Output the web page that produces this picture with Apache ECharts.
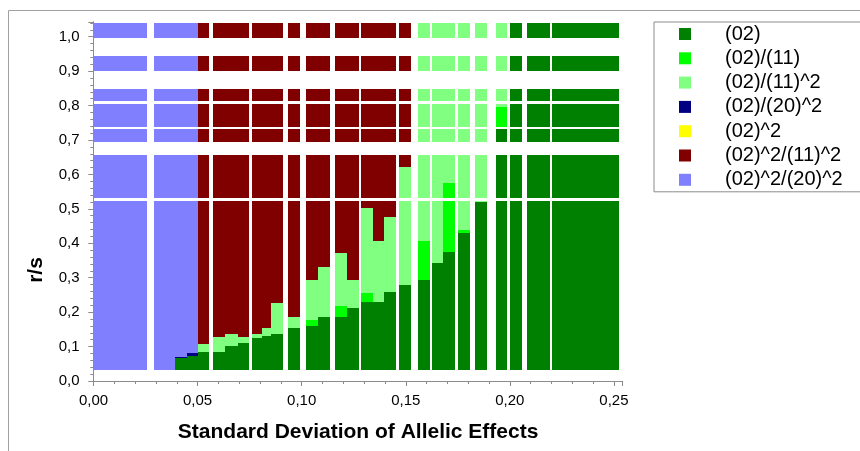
<!DOCTYPE html>
<html>
<head>
<meta charset="utf-8">
<script src="https://cdn.jsdelivr.net/npm/echarts@6/dist/echarts.min.js"></script>
<style>
  html, body { margin: 0; padding: 0; background: #fff; }
  #chart { width: 860px; height: 451px; }
</style>
</head>
<body>
<div id="chart"></div>
<script>
// model categories and their colours
var categories = ['(02)', '(02)/(11)', '(02)/(11)^2', '(02)/(20)^2', '(02)^2', '(02)^2/(11)^2', '(02)^2/(20)^2'];
var catColors = ['#008000', '#00ff00', '#80ff80', '#000080', '#ffff00', '#800000', '#8080ff'];

// x bins (standard deviation of allelic effects)
var binStart = [0.0000, 0.0291, 0.0391, 0.0448, 0.0500, 0.0576, 0.0633, 0.0693, 0.0760, 0.0808, 0.0853, 0.0933, 0.1021, 0.1080, 0.1160, 0.1219, 0.1283, 0.1344, 0.1395, 0.1467, 0.1560, 0.1626, 0.1680, 0.1751, 0.1832, 0.1931, 0.2003, 0.2082, 0.2202];
var binEnd   = [0.0258, 0.0391, 0.0448, 0.0500, 0.0557, 0.0633, 0.0693, 0.0748, 0.0808, 0.0853, 0.0910, 0.0992, 0.1080, 0.1136, 0.1219, 0.1277, 0.1341, 0.1395, 0.1453, 0.1525, 0.1618, 0.1680, 0.1736, 0.1808, 0.1889, 0.1988, 0.2057, 0.2193, 0.2523];

// r/s bands (band 0 is the big lower one)
var rowBottom = [0.032, 0.531, 0.695, 0.737, 0.814, 0.901, 0.995];
var rowTop    = [0.524, 0.656, 0.731, 0.804, 0.848, 0.945, 1.039];

// lower band: top of each stacked layer per bin (null = layer absent)
var low02     = [null, null, 0.066, 0.072, 0.083, 0.083, 0.102, 0.111, 0.124, 0.132, 0.137, 0.155, 0.160, 0.185, 0.185, 0.211, 0.229, 0.229, 0.258, 0.280, 0.293, 0.344, 0.374, 0.429, 0.519, null, null, null, null];
var low02_11  = [null, null, null, null, null, null, null, null, null, null, null, null, 0.176, null, 0.219, null, 0.257, null, null, null, 0.407, null, null, 0.439, null, null, null, null, null];
var low02_11b = [null, null, null, null, 0.108, 0.129, 0.137, 0.127, 0.137, 0.153, 0.226, 0.185, 0.293, 0.330, 0.373, 0.293, 0.503, 0.407, 0.477, null, null, null, null, null, null, null, null, null, null];
var low02_20b = [null, null, 0.071, 0.080, null, null, null, null, null, null, null, null, null, null, null, null, null, null, null, null, null, null, null, null, null, null, null, null, null];
// category filling the rest of the lower band
var lowFill   = [6, 6, 6, 6, 5, 5, 5, 5, 5, 5, 5, 5, 5, 5, 5, 5, 5, 5, 5, 2, 2, 2, 1, 2, 2, 0, 0, 0, 0];

// upper bands: category per bin
var upperRow1 = [6, 6, 6, 6, 5, 5, 5, 5, 5, 5, 5, 5, 5, 5, 5, 5, 5, 5, 5, 5, 2, 2, 2, 2, 2, 0, 0, 0, 0];
var upperRow2 = [6, 6, 6, 6, 5, 5, 5, 5, 5, 5, 5, 5, 5, 5, 5, 5, 5, 5, 5, 5, 2, 2, 2, 2, 2, 0, 0, 0, 0];
var upperRow3 = [6, 6, 6, 6, 5, 5, 5, 5, 5, 5, 5, 5, 5, 5, 5, 5, 5, 5, 5, 5, 2, 2, 2, 2, 2, 2, 0, 0, 0];
var upperRow4 = [6, 6, 6, 6, 5, 5, 5, 5, 5, 5, 5, 5, 5, 5, 5, 5, 5, 5, 5, 5, 2, 2, 2, 2, 2, 2, 0, 0, 0];
var upperRow5 = [6, 6, 6, 6, 5, 5, 5, 5, 5, 5, 5, 5, 5, 5, 5, 5, 5, 5, 5, 5, 2, 2, 2, 2, 2, 2, 0, 0, 0];
var upperRow6 = [6, 6, 6, 6, 5, 5, 5, 5, 5, 5, 5, 5, 5, 5, 5, 5, 5, 5, 5, 5, 2, 2, 2, 2, 2, 2, 0, 0, 0];

// partial layers at the bottom of a few upper cells
var insetBin = [19, 22, 25];
var insetRow = [1, 1, 3];
var insetCat = [2, 1, 1];
var insetTop = [0.622, 0.576, 0.797];

var cellsByCat = categories.map(function () { return []; });
function addCell(cat, bin, y0, y1) {
    cellsByCat[cat].push([binStart[bin], binEnd[bin], y0, y1]);
}

// lower band stacks
var lowLayers = [[0, low02], [1, low02_11], [2, low02_11b], [3, low02_20b]];
for (var i = 0; i < binStart.length; i++) {
    var base = rowBottom[0];
    lowLayers.forEach(function (layer) {
        var top = layer[1][i];
        if (top != null) {
            addCell(layer[0], i, base, top);
            base = top;
        }
    });
    addCell(lowFill[i], i, base, rowTop[0]);
}

// upper bands
var upperRows = [null, upperRow1, upperRow2, upperRow3, upperRow4, upperRow5, upperRow6];
for (var r = 1; r < upperRows.length; r++) {
    for (var b = 0; b < binStart.length; b++) {
        var start = rowBottom[r];
        for (var k = 0; k < insetBin.length; k++) {
            if (insetBin[k] === b && insetRow[k] === r) {
                addCell(insetCat[k], b, start, insetTop[k]);
                start = insetTop[k];
            }
        }
        addCell(upperRows[r][b], b, start, rowTop[r]);
    }
}

// snap to whole pixels so touching cells have no seam
function renderCell(params, api) {
    var p0 = api.coord([api.value(0), api.value(3)]).map(Math.round);
    var p1 = api.coord([api.value(1), api.value(2)]).map(Math.round);
    return {
        type: 'rect',
        shape: { x: p0[0], y: p0[1], width: p1[0] - p0[0], height: p1[1] - p0[1] },
        style: { fill: api.visual('color') }
    };
}

var fontFam = 'Liberation Sans, Arial, sans-serif';
var axisGray = '#8c8c8c';
function comma(d) {
    return function (v) { return v.toFixed(d).replace('.', ','); };
}

var chart = echarts.init(document.getElementById('chart'));

var option = {
    animation: false,
    grid: { left: 93.5, right: 237.3, top: 22, bottom: 70 },
    xAxis: [{
        type: 'value',
        min: 0,
        max: 0.2542,
        interval: 0.05,
        name: 'Standard Deviation of Allelic Effects',
        nameLocation: 'middle',
        nameGap: 41,
        nameTextStyle: { fontSize: 21, fontWeight: 'bold', color: '#000', fontFamily: fontFam },
        axisLine: { lineStyle: { color: axisGray } },
        axisTick: { length: 5, lineStyle: { color: axisGray } },
        minorTick: { show: true, splitNumber: 5, length: 3, lineStyle: { color: axisGray } },
        axisLabel: { formatter: comma(2), fontSize: 15, color: '#000', margin: 12, fontFamily: fontFam, showMaxLabel: false },
        splitLine: { show: false }
    }, {
        type: 'value',
        position: 'top',
        min: 0,
        max: 0.2542,
        interval: 0.05,
        axisLine: { lineStyle: { color: axisGray } },
        axisTick: { inside: true, length: 5, lineStyle: { color: axisGray } },
        minorTick: { show: true, splitNumber: 5, length: 3, lineStyle: { color: axisGray } },
        axisLabel: { show: false },
        splitLine: { show: false }
    }],
    yAxis: [{
        type: 'value',
        min: 0,
        max: 1.0427,
        interval: 0.1,
        axisLine: { show: true, lineStyle: { color: axisGray } },
        axisTick: { show: true, length: 5, lineStyle: { color: axisGray } },
        minorTick: { show: true, splitNumber: 5, length: 3, lineStyle: { color: axisGray } },
        axisLabel: { formatter: comma(1), fontSize: 15, color: '#000', margin: 14, fontFamily: fontFam, showMaxLabel: false },
        splitLine: { show: false }
    }, {
        type: 'value',
        position: 'right',
        min: 0,
        max: 1.0427,
        interval: 0.1,
        axisLine: { show: true, lineStyle: { color: axisGray } },
        axisTick: { show: true, inside: true, length: 5, lineStyle: { color: axisGray } },
        minorTick: { show: true, splitNumber: 5, length: 3, lineStyle: { color: axisGray } },
        axisLabel: { show: false },
        splitLine: { show: false }
    }],
    legend: {
        orient: 'vertical',
        left: 654,
        top: 22,
        padding: [2, 40, 2, 25],
        itemWidth: 12,
        itemHeight: 12,
        itemGap: 4.3,
        icon: 'rect',
        selectedMode: false,
        borderColor: axisGray,
        borderWidth: 1,
        textStyle: { fontSize: 20, lineHeight: 20, color: '#000', fontFamily: fontFam, padding: [0, 0, 0, 29] },
        data: categories
    },
    graphic: [{
        type: 'rect',
        silent: true,
        shape: { x: 8.5, y: 10.5, width: 900, height: 500 },
        style: { fill: 'none', stroke: '#a0a0a0', lineWidth: 1 }
    }, {
        type: 'text',
        x: 36,
        y: 270,
        rotation: Math.PI / 2,
        style: {
            text: 'r/s',
            fontSize: 21,
            fontWeight: 'bold',
            fontFamily: fontFam,
            fill: '#000',
            align: 'center',
            verticalAlign: 'middle'
        }
    }],
    series: categories.map(function (name, c) {
        return {
            name: name,
            type: 'custom',
            renderItem: renderCell,
            itemStyle: { color: catColors[c] },
            encode: { x: [0, 1], y: [2, 3] },
            data: cellsByCat[c]
        };
    })
};

chart.setOption(option);

window.onresize = function () {
    chart.resize();
};
</script>
</body>
</html>
